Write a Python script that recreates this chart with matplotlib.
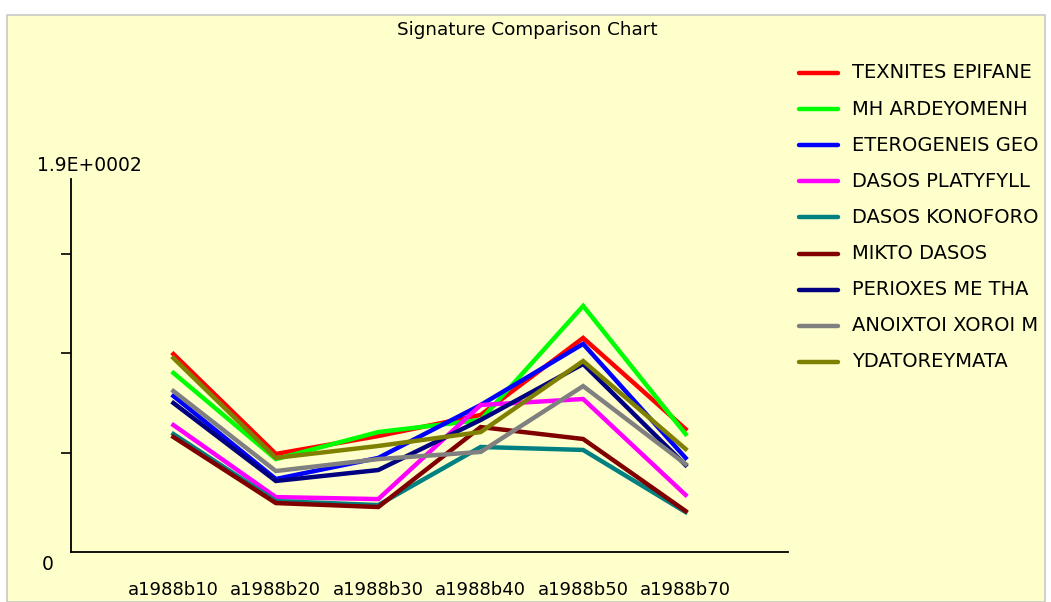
import matplotlib
matplotlib.use("Agg")
import matplotlib.pyplot as plt
from matplotlib.patches import Rectangle
from matplotlib.lines import Line2D

# === Chart data ===
categories = ["a1988b10", "a1988b20", "a1988b30", "a1988b40", "a1988b50", "a1988b70"]
# legend names as far as they are visible in the original
series_names = [
    "TEXNITES EPIFANE",
    "MH ARDEYOMENH",
    "ETEROGENEIS GEO",
    "DASOS PLATYFYLL",
    "DASOS KONOFORO",
    "MIKTO DASOS",
    "PERIOXES ME THA",
    "ANOIXTOI XOROI M",
    "YDATOREYMATA",
]
series_colors = ["#FF0000", "#00FF00", "#0000FF", "#FF00FF", "#008080",
                 "#800000", "#000080", "#808080", "#808000"]

texnites = [99.5, 49.3, 58.3, 68.9, 107.6, 61.8]
mh_ardeyomenh = [90.0, 46.7, 60.3, 66.4, 123.7, 59.3]
eterogeneis = [78.4, 36.7, 47.3, 73.9, 104.6, 47.3]
dasos_platyfyllon = [63.8, 27.6, 26.6, 73.9, 76.9, 28.7]
dasos_konoforon = [59.3, 25.6, 23.6, 52.8, 51.3, 20.1]
mikto_dasos = [57.8, 24.6, 22.6, 62.8, 56.8, 20.6]
perioxes = [74.9, 35.7, 41.2, 66.4, 94.5, 43.7]
anoixtoi = [80.9, 40.7, 46.7, 50.3, 83.4, 44.2]
ydatoreymata = [97.5, 47.3, 53.3, 60.3, 96.0, 51.8]

all_series = [texnites, mh_ardeyomenh, eterogeneis, dasos_platyfyllon,
              dasos_konoforon, mikto_dasos, perioxes, anoixtoi, ydatoreymata]

y_max = 187.5
y_ticks = [50, 100, 150]

# === Figure setup ===
W, H = 1051, 602
plt.rcParams["font.family"] = ["DejaVu Sans"]
fig = plt.figure(figsize=(W / 100, H / 100), dpi=100, facecolor="white")


def fx(x):
    return x / W


def fy(y):
    return 1 - y / H


# yellow panel
panel = Rectangle((fx(7), fy(602)), fx(1045) - fx(7), fy(15) - fy(602),
                  transform=fig.transFigure, facecolor="#FFFFCC",
                  edgecolor="#C8C8C8", linewidth=1.2, zorder=0)
fig.patches.append(panel)

ax = fig.add_axes([fx(71), fy(552), fx(788) - fx(71), fy(179) - fy(552)])
ax.set_zorder(2)
ax.set_facecolor("none")

x = list(range(1, len(categories) + 1))
for vals, col in zip(all_series, series_colors):
    ax.plot(x, vals, color=col, linewidth=3.2, solid_joinstyle="miter")

ax.set_xlim(0, len(categories) + 1)
ax.set_ylim(0, y_max)
ax.set_xticks(x, categories, fontsize=13)
ax.set_yticks(y_ticks, [""] * len(y_ticks))
ax.tick_params(axis="x", length=0, pad=21)
ax.tick_params(axis="y", length=7.5, width=1.2, direction="out")
for s in ["top", "right"]:
    ax.spines[s].set_visible(False)
for s in ["left", "bottom"]:
    ax.spines[s].set_linewidth(1.3)

fig.text(fx(89), fy(166), "1.9E+0002", ha="center", va="center", fontsize=13.5)
fig.text(fx(48), fy(564), "0", ha="center", va="center", fontsize=13.5)
fig.text(fx(527), fy(30), "Signature Comparison Chart", ha="center", va="center", fontsize=13.2)

# === Legend ===
for i, (name, col) in enumerate(zip(series_names, series_colors)):
    yy = 73 + i * 36.1
    ln = Line2D([fx(799), fx(838)], [fy(yy), fy(yy)], transform=fig.transFigure,
                color=col, linewidth=3.2, solid_capstyle="round")
    fig.lines.append(ln)
    t = fig.text(fx(852), fy(yy), name, ha="left", va="center", fontsize=14)
    t.set_clip_path(panel)

fig.savefig("out.png", dpi=100, facecolor="white")
